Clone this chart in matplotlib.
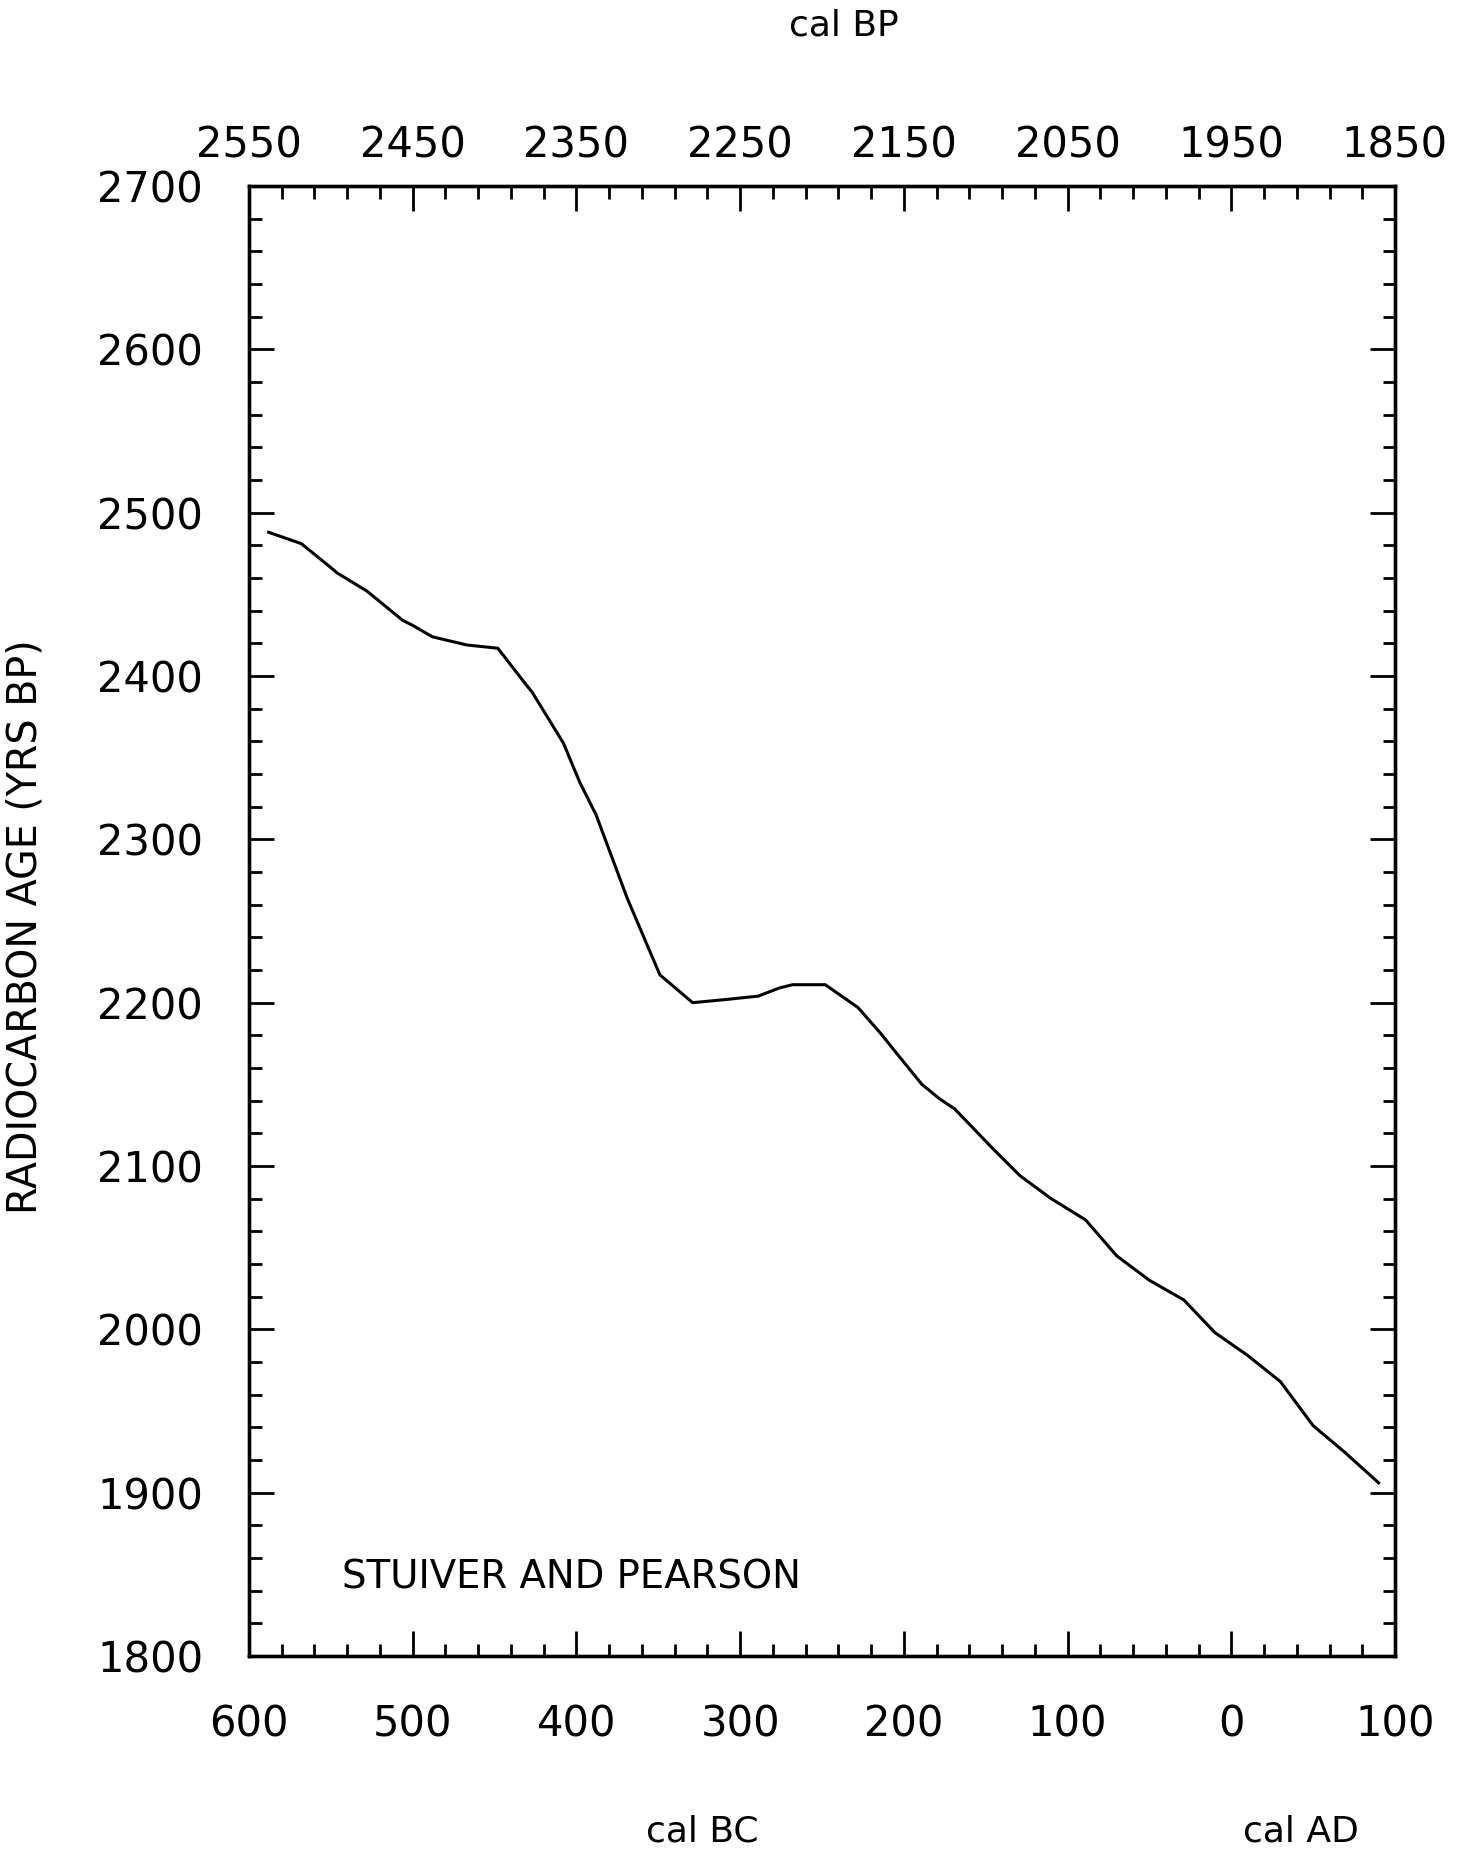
import matplotlib
matplotlib.use("Agg")
import matplotlib.pyplot as plt
import numpy as np

# ---- data ----
cal_bp = [2538, 2518, 2502, 2496, 2478, 2456, 2450, 2438, 2417, 2398,
          2381, 2377, 2358, 2348, 2338, 2319, 2299, 2279, 2258, 2239,
          2226, 2218, 2198, 2178, 2164, 2152, 2139, 2128, 2119, 2096,
          2079, 2060, 2039, 2020, 2000, 1979, 1960, 1940, 1920, 1900,
          1881, 1860]
c14_age = [2488, 2481, 2468, 2463, 2452, 2434, 2431, 2424, 2419, 2417,
           2395, 2390, 2359, 2335, 2315, 2264, 2217, 2200, 2202, 2204,
           2209, 2211, 2211, 2197, 2181, 2166, 2150, 2141, 2135, 2111,
           2094, 2080, 2067, 2045, 2030, 2018, 1998, 1984, 1968, 1941,
           1925, 1906]

x_major_bp = [2550, 2450, 2350, 2250, 2150, 2050, 1950, 1850]
top_labels = ["2550", "2450", "2350", "2250", "2150", "2050", "1950", "1850"]
bottom_labels = ["600", "500", "400", "300", "200", "100", "0", "100"]
y_major = [1800, 1900, 2000, 2100, 2200, 2300, 2400, 2500, 2600, 2700]
y_labels = ["1800", "1900", "2000", "2100", "2200", "2300", "2400", "2500", "2600", "2700"]

plt.rcParams['font.family'] = ['DejaVu Sans']

W, H = 1464, 1851
fig = plt.figure(figsize=(W / 100, H / 100), dpi=100)
L, R, T, B = 249, 1395, 186, 1656
ax = fig.add_axes([L / W, 1 - B / H, (R - L) / W, (B - T) / H])

ax.plot(cal_bp, c14_age, color='black', lw=2.2, solid_joinstyle='round')

ax.set_xlim(2550, 1850)
ax.set_ylim(1800, 2700)

tick_fs = 30
ax.set_xticks(x_major_bp)
ax.set_xticklabels(bottom_labels, fontsize=tick_fs)
ax.set_xticks(np.arange(1850, 2551, 20), minor=True)
ax.set_yticks(y_major)
ax.set_yticklabels(y_labels, fontsize=tick_fs)
ax.set_yticks(np.arange(1800, 2701, 20), minor=True)

ax.tick_params(axis='both', which='both', direction='in', width=2.0, color='black')
ax.tick_params(axis='both', which='major', length=18)
ax.tick_params(axis='both', which='minor', length=9)
ax.tick_params(axis='x', which='both', top=False, bottom=True, pad=34)
ax.tick_params(axis='y', which='both', left=True, right=True, labelright=False, pad=33)

ax2 = ax.twiny()
ax2.set_xlim(ax.get_xlim())
ax2.set_xticks(x_major_bp)
ax2.set_xticklabels(top_labels, fontsize=tick_fs)
ax2.set_xticks(np.arange(1850, 2551, 20), minor=True)
ax2.tick_params(axis='x', which='both', direction='in', width=2.0, top=True,
                bottom=False, labeltop=True, labelbottom=False, pad=14)
ax2.tick_params(axis='x', which='major', length=18)
ax2.tick_params(axis='x', which='minor', length=9)

for a in (ax, ax2):
    for s in a.spines.values():
        s.set_linewidth(2.4)
        s.set_color('black')

ax.text((342 - L) / (R - L), (B - 1577) / (B - T), "STUIVER AND PEARSON",
        transform=ax.transAxes, fontsize=27.8, ha='left', va='center')

fig.text(26 / W, 1 - 927 / H, "RADIOCARBON AGE (YRS BP)", rotation=90,
         fontsize=28.5, ha='center', va='center')
fig.text(844 / W, 1 - 25 / H, "cal BP", fontsize=26, ha='center', va='center')
fig.text(702 / W, 1 - 1831 / H, "cal BC", fontsize=26, ha='center', va='center')
fig.text(1301 / W, 1 - 1831 / H, "cal AD", fontsize=26, ha='center', va='center')

fig.savefig("out.png", dpi=100, facecolor='white')
